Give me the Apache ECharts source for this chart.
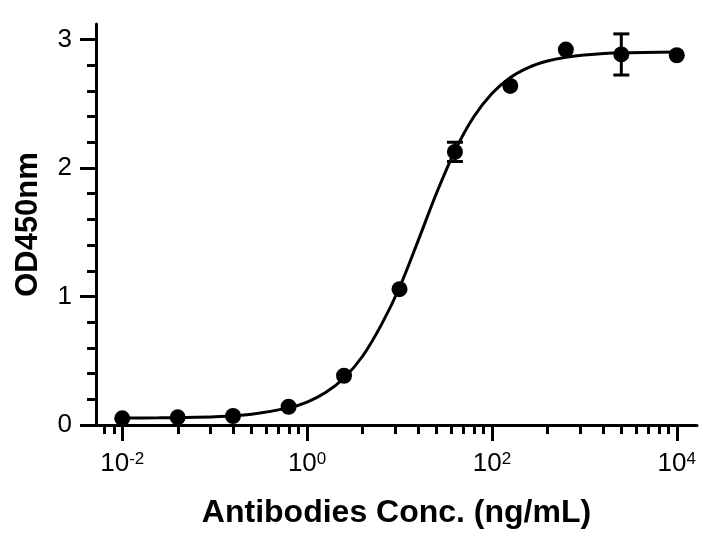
<!DOCTYPE html>
<html>
<head>
<meta charset="utf-8">
<script src="https://cdn.jsdelivr.net/npm/echarts@6/dist/echarts.min.js"></script>
<style>
html,body{margin:0;padding:0;background:#fff;}
#chart{width:726px;height:536px;}
</style>
</head>
<body>
<div id="chart"></div>
<script>
// Measured points
const concentrations = [0.01, 0.0398, 0.158, 0.631, 2.51, 10, 39.8, 158, 631, 2512, 10000];
const odMeans = [0.052, 0.060, 0.070, 0.142, 0.383, 1.057, 2.125, 2.638, 2.921, 2.883, 2.877];
const odErrors = [0, 0, 0, 0, 0, 0, 0.075, 0, 0, 0.16, 0];

// Fitted curve
const curveConc = [0.01, 0.0251, 0.1, 0.251, 0.631, 1, 1.585, 2.512, 3.981, 6.31, 10, 15.85, 25.12, 39.81, 63.1, 100, 158.5, 251.2, 398.1, 631, 1000, 2512, 10000];
const curveOD = [0.054, 0.056, 0.064, 0.084, 0.133, 0.178, 0.252, 0.366, 0.535, 0.775, 1.07, 1.431, 1.803, 2.133, 2.394, 2.580, 2.704, 2.783, 2.832, 2.862, 2.879, 2.896, 2.903];

// Ticks
const xMajorTicks = [0.01, 1, 100, 10000];
const xMinorTicks = [0.0064, 0.0081, 0.04, 0.09, 0.16, 0.25, 0.36, 0.49, 0.64, 0.81, 4, 9, 16, 25, 36, 49, 64, 81, 400, 900, 1600, 2500, 3600, 4900, 6400, 8100];
const yMajorTicks = [0, 1, 2, 3];
const yMinorTicks = [0.2, 0.4, 0.6, 0.8, 1.2, 1.4, 1.6, 1.8, 2.2, 2.4, 2.6, 2.8];

const xTitle = 'Antibodies Conc. (ng/mL)';
const yTitle = 'OD450nm';

const FONT = "'Liberation Sans', Arial, Helvetica, sans-serif";
const chart = echarts.init(document.getElementById('chart'));

const scatterData = concentrations.map((c, i) => [c, odMeans[i]]);
const curveData = curveConc.map((c, i) => [c, curveOD[i]]);
const errData = concentrations.map((c, i) => [c, odMeans[i] - odErrors[i], odMeans[i] + odErrors[i], odErrors[i]]).filter(d => d[3] > 0);

const X_MIN = 0.0052, X_MAX = 16558;

chart.setOption({
  animation: false,
  backgroundColor: '#fff',
  textStyle: { fontFamily: FONT },
  grid: { left: 96, right: 29, top: 24, bottom: 111 },
  xAxis: [{
    type: 'log', logBase: 10, min: X_MIN, max: X_MAX,
    position: 'bottom',
    name: xTitle, nameLocation: 'middle', nameGap: 72,
    nameTextStyle: { fontSize: 32, fontWeight: 'bold', color: '#000', fontFamily: FONT },
    axisLine: { show: true, lineStyle: { color: '#000', width: 3 } },
    axisTick: { show: true, customValues: xMajorTicks, length: 16, lineStyle: { color: '#000', width: 3 } },
    axisLabel: {
      show: true, customValues: xMajorTicks, margin: 26, color: '#000',
      formatter: v => '{b|10}{s|' + Math.round(Math.log10(v)) + '}',
      rich: {
        b: { fontSize: 26, fontFamily: FONT, color: '#000', lineHeight: 26 },
        s: { fontSize: 17, fontFamily: FONT, color: '#000', lineHeight: 16, verticalAlign: 'top' }
      }
    },
    splitLine: { show: false }, minorTick: { show: false }
  }, {
    type: 'log', logBase: 10, min: X_MIN, max: X_MAX,
    position: 'bottom', gridIndex: 0,
    axisLine: { show: false },
    axisTick: { show: true, customValues: xMinorTicks, length: 9, lineStyle: { color: '#000', width: 3 } },
    axisLabel: { show: false },
    splitLine: { show: false }
  }],
  yAxis: [{
    type: 'value', min: 0, max: 3.12,
    position: 'left',
    name: yTitle, nameLocation: 'middle', nameGap: 52, nameRotate: 90,
    nameTextStyle: { fontSize: 31, fontWeight: 'bold', color: '#000', fontFamily: FONT },
    axisLine: { show: true, lineStyle: { color: '#000', width: 3 } },
    axisTick: { show: true, customValues: yMajorTicks, length: 16, lineStyle: { color: '#000', width: 3 } },
    axisLabel: { show: true, customValues: yMajorTicks, margin: 24, fontSize: 26, color: '#000', fontFamily: FONT },
    splitLine: { show: false }
  }, {
    type: 'value', min: 0, max: 3.12,
    position: 'left', gridIndex: 0,
    axisLine: { show: false },
    axisTick: { show: true, customValues: yMinorTicks, length: 9, lineStyle: { color: '#000', width: 3 } },
    axisLabel: { show: false },
    splitLine: { show: false }
  }],
  series: [{
    type: 'line', xAxisIndex: 0, yAxisIndex: 0,
    data: curveData, smooth: 0.3, showSymbol: false,
    lineStyle: { color: '#000', width: 3 }, z: 2
  }, {
    type: 'custom', xAxisIndex: 0, yAxisIndex: 0,
    data: errData, z: 3,
    renderItem: function (params, api) {
      const x = api.value(0);
      const lo = api.coord([x, api.value(1)]);
      const hi = api.coord([x, api.value(2)]);
      const hw = 8;
      const st = { stroke: '#000', lineWidth: 3 };
      return {
        type: 'group',
        children: [
          { type: 'line', shape: { x1: lo[0], y1: lo[1], x2: hi[0], y2: hi[1] }, style: st },
          { type: 'line', shape: { x1: hi[0] - hw, y1: hi[1], x2: hi[0] + hw, y2: hi[1] }, style: st },
          { type: 'line', shape: { x1: lo[0] - hw, y1: lo[1], x2: lo[0] + hw, y2: lo[1] }, style: st }
        ]
      };
    }
  }, {
    type: 'scatter', xAxisIndex: 0, yAxisIndex: 0,
    data: scatterData, symbol: 'circle', symbolSize: 16,
    itemStyle: { color: '#000', opacity: 1 }, z: 4
  }]
});
</script>
</body>
</html>
